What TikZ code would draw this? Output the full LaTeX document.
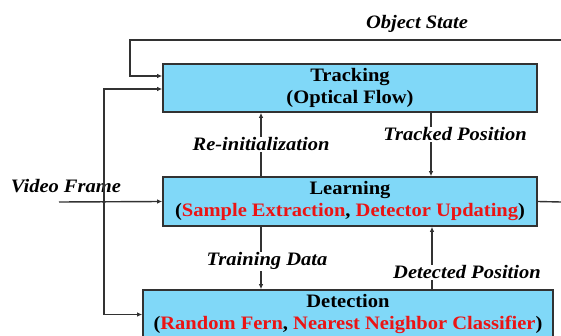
\documentclass[tikz,border=0pt]{standalone}
\usepackage{fontspec}
\setmainfont{Liberation Serif}[FakeStretch=1.08]
\usetikzlibrary{arrows.meta}
\tikzset{>={Latex[width=4.5pt,length=5pt]}}

\definecolor{boxblue}{RGB}{128,216,248}
\definecolor{linegray}{RGB}{50,50,50}
\definecolor{txtred}{RGB}{235,20,20}

\tikzset{
  block/.style={draw=linegray, line width=1.6pt, fill=boxblue, align=center,
    inner sep=0pt, font=\bfseries\fontsize{19}{22}\selectfont},
  flow/.style={draw=linegray, line width=1.4pt},
  tag/.style={fill=white, inner sep=1pt, font=\bfseries\itshape\fontsize{19}{22}\selectfont},
}

\begin{document}
\begin{tikzpicture}[x=1pt,y=-1pt]

\useasboundingbox (0,0) rectangle (561,336);
\clip (0,0) rectangle (561,336);

%% blocks
\node[block, minimum width=374pt, minimum height=48pt] (track) at (350,88)
{Tracking\\(Optical Flow)};
\node[block, minimum width=374pt, minimum height=49pt] (learn) at (350,201.5)
{Learning\\(\textcolor{txtred}{Sample Extraction}, \textcolor{txtred}{Detector Updating})};
\node[block, minimum width=410pt, minimum height=49pt] (detect) at (348,314.5)
{Detection\\(\textcolor{txtred}{Random Fern}, \textcolor{txtred}{Nearest Neighbor Classifier})};

%% object state loop
\coordinate (osr) at (561,40);
\coordinate (osl) at (130,40);
\draw[flow,->] (osr) -- (osl) |- ([yshift=12pt]track.west);
\node[tag] (ostate) at (417,24) {Object State};

%% video frame input
\coordinate (vf) at (59,202);
\coordinate (split) at (104,202);
\node[tag, fill=none] (vframe) at (66,186) {Video Frame};
\draw[flow,->] (vf) -- (learn.west);
\draw[flow,->] (split) |- ([yshift=-1pt]track.west);
\draw[flow,->] (split) |- (detect.west);
\fill[linegray] (split) circle (1.8pt);

%% learning output
\coordinate (lout) at (561,202);
\draw[flow] (learn.east) -- (lout);

%% tracking <-> learning
\draw[flow,->] ([xshift=-89pt]learn.north) --
node[tag] (reinit) {Re-initialization} ([xshift=-89pt]track.south);
\draw[flow,->] ([xshift=81pt]track.south) --
node[tag, pos=0.34, xshift=24pt] (trackpos) {Tracked Position} ([xshift=81pt]learn.north);

%% learning <-> detection
\draw[flow,->] ([xshift=-89pt]learn.south) --
node[tag, pos=0.55, xshift=6pt] (traindata) {Training Data} ([xshift=-89pt]learn.south |- detect.north);
\draw[flow,->] ([xshift=82pt]learn.south |- detect.north) --
node[tag, pos=0.27, xshift=35pt] (detpos) {Detected Position} ([xshift=82pt]learn.south);

\end{tikzpicture}
\end{document}
